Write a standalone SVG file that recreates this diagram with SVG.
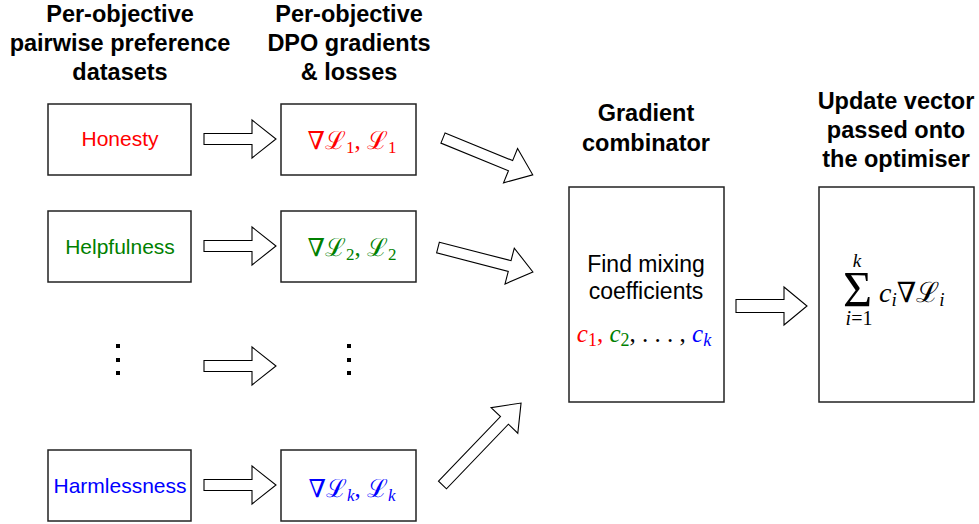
<svg xmlns="http://www.w3.org/2000/svg" width="979" height="524" viewBox="0 0 979 524">
<style>
.hd{font-family:"Liberation Sans",Arial,sans-serif;font-weight:bold;font-size:23.5px;fill:#000;text-anchor:middle}
.lb{font-family:"Liberation Sans",Arial,sans-serif;font-size:21px;text-anchor:middle}
.tx{font-family:"Liberation Sans",Arial,sans-serif;font-size:23px;text-anchor:middle;fill:#000}
.m{font-family:"Liberation Serif","DejaVu Serif",serif;font-size:25px;text-anchor:middle}
.box{fill:#fff;stroke:#222;stroke-width:1.5}
.arr{fill:#fff;stroke:#000;stroke-width:1.1;stroke-linejoin:miter}
.dot{fill:#000}
</style>
<rect width="979" height="524" fill="#fff"/>

<g id="headers">
<text class="hd" x="120" y="22">Per-objective</text>
<text class="hd" x="120" y="51">pairwise preference</text>
<text class="hd" x="120" y="80">datasets</text>
<text class="hd" x="349" y="22">Per-objective</text>
<text class="hd" x="349" y="51">DPO gradients</text>
<text class="hd" x="349" y="80">&amp; losses</text>
<text class="hd" x="646" y="121">Gradient</text>
<text class="hd" x="646" y="151">combinator</text>
<text class="hd" x="896" y="109">Update vector</text>
<text class="hd" x="896" y="138">passed onto</text>
<text class="hd" x="896" y="167">the optimiser</text>
</g>

<g id="honesty"><rect class="box" x="48" y="104" width="143" height="71"/><text class="lb" x="120" y="146" fill="#ff0000">Honesty</text></g>
<g id="helpfulness"><rect class="box" x="48" y="211" width="143" height="71"/><text class="lb" x="120" y="254" fill="#008000">Helpfulness</text></g>
<g id="harmlessness"><rect class="box" x="48" y="450" width="143" height="71"/><text class="lb" x="120" y="493" fill="#0000ff">Harmlessness</text></g>
<g id="dots-left"><rect class="dot" x="116" y="344" width="4" height="4"/><rect class="dot" x="116" y="358" width="4" height="4"/><rect class="dot" x="116" y="371" width="4" height="4"/></g>

<g id="grad1"><rect class="box" x="281" y="104" width="135" height="71"/>
<text class="m" x="352" y="149" fill="#ff0000">∇ℒ<tspan font-size="17" dy="4">1</tspan><tspan dy="-4">, ℒ</tspan><tspan font-size="17" dy="4">1</tspan></text></g>
<g id="grad2"><rect class="box" x="281" y="211" width="135" height="71"/>
<text class="m" x="352" y="256" fill="#008000">∇ℒ<tspan font-size="17" dy="4">2</tspan><tspan dy="-4">, ℒ</tspan><tspan font-size="17" dy="4">2</tspan></text></g>
<g id="gradk"><rect class="box" x="281" y="450" width="135" height="71"/>
<text class="m" x="352" y="497" fill="#0000ff">∇ℒ<tspan font-size="17" font-style="italic" dy="4">k</tspan><tspan dy="-4">, ℒ</tspan><tspan font-size="17" font-style="italic" dy="4">k</tspan></text></g>
<g id="dots-mid"><rect class="dot" x="347" y="344" width="4" height="4"/><rect class="dot" x="347" y="358" width="4" height="4"/><rect class="dot" x="347" y="371" width="4" height="4"/></g>

<g id="combinator"><rect class="box" x="569" y="187" width="155" height="215"/>
<text class="tx" x="646" y="272">Find mixing</text>
<text class="tx" x="646" y="299">coefficients</text>
<text class="m" x="644" y="342"><tspan fill="#ff0000" font-style="italic">c</tspan><tspan fill="#ff0000" font-size="18" dy="4">1</tspan><tspan fill="#ff0000" dy="-4">, </tspan><tspan fill="#008000" font-style="italic">c</tspan><tspan fill="#008000" font-size="18" dy="4">2</tspan><tspan fill="#000" dy="-4">, . . . , </tspan><tspan fill="#0000ff" font-style="italic">c</tspan><tspan fill="#0000ff" font-size="18" font-style="italic" dy="4">k</tspan></text>
</g>

<g id="update"><rect class="box" x="819" y="187" width="155" height="215"/>
<text class="m" x="857.5" y="306" style="font-size:50px" fill="#000">Σ</text>
<text class="m" x="857" y="267" style="font-size:19px;font-style:italic" fill="#000">k</text>
<text class="m" x="859" y="325" style="font-size:20px" fill="#000"><tspan font-style="italic">i</tspan>=1</text>
<text class="m" x="879" y="302" style="text-anchor:start;font-size:28px" fill="#000"><tspan font-style="italic">c</tspan><tspan font-size="19" font-style="italic" dy="4">i</tspan><tspan dy="-4">∇ℒ</tspan><tspan font-size="19" font-style="italic" dy="4">i</tspan></text>
</g>

<g id="connectors">
<polygon class="arr" points="204,133.5 252,133.5 252,120 276,139 252,158 252,144.5 204,144.5"/>
<polygon class="arr" points="204,240.5 252,240.5 252,227 276,246 252,265 252,251.5 204,251.5"/>
<polygon class="arr" points="204,360.5 252,360.5 252,347 276,366 252,385 252,371.5 204,371.5"/>
<polygon class="arr" points="204,479.5 252,479.5 252,466 276,485 252,504 252,490.5 204,490.5"/>
<polygon class="arr" transform="translate(443,138) rotate(22.3)" points="0,-5.5 73,-5.5 73,-18.5 97,0 73,18.5 73,5.5 0,5.5"/>
<polygon class="arr" transform="translate(438,247.5) rotate(14.5)" points="0,-5.5 74,-5.5 74,-18.5 98,0 74,18.5 74,5.5 0,5.5"/>
<polygon class="arr" transform="translate(442.5,485) rotate(-46.2)" points="0,-5.5 89.5,-5.5 89.5,-18.5 113.5,0 89.5,18.5 89.5,5.5 0,5.5"/>
<polygon class="arr" points="736,299.5 784,299.5 784,287 807,306 784,325 784,312.5 736,312.5"/>
</g>
</svg>
